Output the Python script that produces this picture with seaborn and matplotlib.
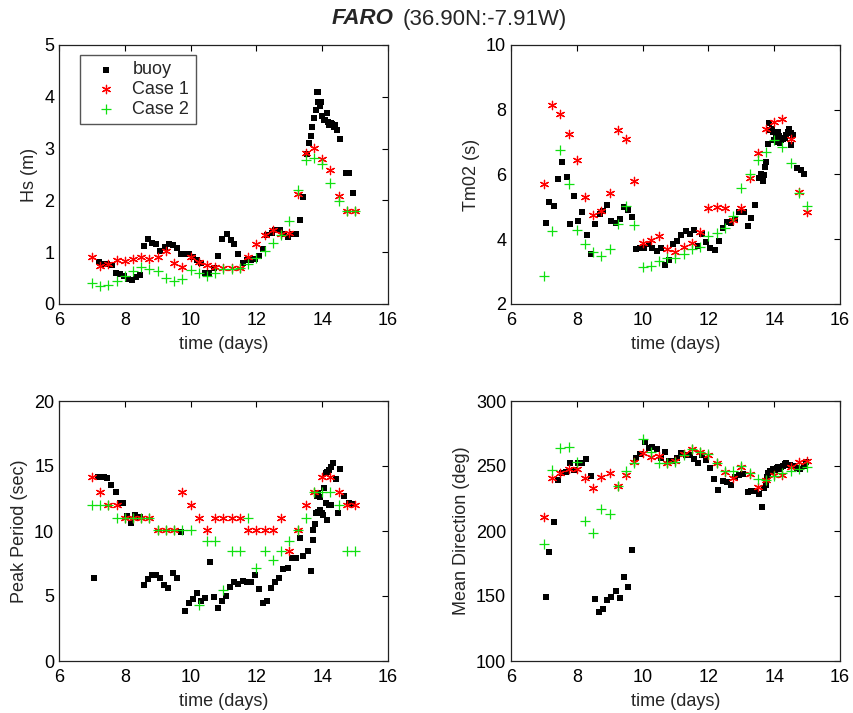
import matplotlib
matplotlib.use("Agg")
import matplotlib.pyplot as plt
import seaborn as sns
import numpy as np

# ---------------- data ----------------
t_case = [7.0, 7.25, 7.5, 7.75, 8.0, 8.25, 8.5, 8.75, 9.0, 9.25, 9.5, 9.75,
          10.0, 10.25, 10.5, 10.75, 11.0, 11.25, 11.5, 11.75, 12.0, 12.25, 12.5, 12.75,
          13.0, 13.25, 13.5, 13.75, 14.0, 14.25, 14.5, 14.75, 15.0]

# Hs (m)
hs_c1 = [0.91, 0.73, 0.77, 0.84, 0.83, 0.87, 0.90, 0.87, 0.90, 1.02, 0.80, 0.71,
         0.90, 0.82, 0.75, 0.71, 0.70, 0.69, 0.70, 0.91, 1.15, 1.33, 1.42, 1.36,
         1.38, 2.12, 2.92, 3.02, 2.80, 2.59, 2.08, 1.80, 1.80]
hs_c2 = [0.40, 0.35, 0.37, 0.45, 0.54, 0.64, 0.71, 0.67, 0.64, 0.51, 0.45, 0.48,
         0.66, 0.60, 0.54, 0.60, 0.67, 0.68, 0.70, 0.77, 0.88, 1.02, 1.18, 1.33,
         1.60, 2.20, 2.78, 2.81, 2.70, 2.33, 1.98, 1.80, 1.80]
t_hs_buoy = [7.21, 7.33, 7.45, 7.6, 7.73, 7.85, 7.97, 8.1, 8.22, 8.34, 8.46, 8.58,
             8.72, 8.84, 8.96, 9.08, 9.21, 9.33, 9.45, 9.58, 9.7, 9.82, 9.95, 10.07,
             10.2, 10.32, 10.45, 10.57, 10.7, 10.84, 10.96, 11.1, 11.22, 11.33, 11.45,
             11.58, 11.71, 11.83, 11.96, 12.08, 12.2, 12.33, 12.46, 12.58, 12.71, 12.83,
             12.95, 13.08, 13.2, 13.32, 13.42, 13.55, 13.6, 13.65, 13.7, 13.75, 13.8,
             13.84, 13.88, 13.86, 13.92, 13.97, 14.0, 14.05, 14.1, 14.15, 14.18, 14.22,
             14.26, 14.3, 14.35, 14.4, 14.45, 14.55, 14.72, 14.82, 14.95]
hs_buoy = [0.81, 0.77, 0.78, 0.75, 0.59, 0.57, 0.55, 0.49, 0.47, 0.53, 0.56, 1.12,
           1.25, 1.17, 1.15, 1.03, 1.11, 1.15, 1.13, 1.08, 0.96, 0.96, 0.96, 0.90,
           0.85, 0.80, 0.59, 0.59, 0.69, 0.93, 1.25, 1.36, 1.24, 1.15, 0.97,
           0.80, 0.84, 0.85, 0.87, 0.93, 1.07, 1.33, 1.38, 1.43, 1.42, 1.35,
           1.30, 1.36, 1.36, 1.62, 2.07, 2.90, 3.10, 3.25, 3.42, 3.60, 3.75,
           4.10, 4.10, 3.89, 3.82, 3.90, 3.62, 3.55, 3.55, 3.68, 3.52, 3.45,
           3.50, 3.47, 3.42, 3.45, 3.35, 3.18, 2.52, 2.52, 2.14]

# Tm02 (s)
tm_c1 = [5.72, 8.14, 7.88, 7.24, 6.44, 5.31, 4.75, 4.88, 5.42, 7.37, 7.10, 5.79,
         3.89, 3.98, 4.10, 3.70, 3.62, 3.75, 3.89, 4.21, 4.98, 5.00, 4.98, 4.61,
         4.98, 5.88, 6.65, 7.39, 7.63, 7.71, 7.11, 5.47, 4.85]
tm_c2 = [2.86, 4.26, 6.75, 5.70, 4.30, 3.85, 3.62, 3.48, 3.69, 4.46, 5.02, 4.44,
         3.13, 3.17, 3.34, 3.41, 3.41, 3.53, 3.69, 3.75, 4.11, 4.18, 4.34, 4.72,
         5.59, 6.01, 6.44, 6.70, 7.08, 6.84, 6.37, 5.42, 5.03]
t_tm_buoy = [7.05, 7.17, 7.3, 7.43, 7.55, 7.69, 7.78, 7.91, 8.04, 8.17, 8.31, 8.44,
             8.56, 8.69, 8.8, 8.91, 9.05, 9.18, 9.3, 9.43, 9.55, 9.69, 9.81, 9.93,
             10.05, 10.18, 10.3, 10.43, 10.56, 10.68, 10.81, 10.93, 11.06, 11.18, 11.31,
             11.43, 11.55, 11.67, 11.82, 11.94, 12.06, 12.19, 12.31, 12.44, 12.57, 12.69,
             12.81, 12.93, 13.07, 13.19, 13.31, 13.43, 13.55, 13.6, 13.66, 13.7, 13.73,
             13.76, 13.82, 13.87, 13.92, 13.85, 13.97, 14.05, 14.12, 14.15, 13.99, 14.1,
             14.17, 14.22, 14.27, 14.32, 14.37, 14.42, 14.46, 14.5, 14.56, 14.51, 14.68,
             14.8, 14.92]
tm_buoy = [4.49, 5.14, 5.03, 5.87, 6.40, 5.91, 4.47, 5.34, 4.56, 4.85, 4.13, 3.55,
           4.47, 4.77, 4.87, 5.05, 4.56, 4.49, 4.64, 5.00, 4.89, 4.70, 3.69, 3.72,
           3.72, 3.86, 3.72, 3.65, 3.73, 3.22, 3.36, 3.84, 3.96, 4.13, 4.25,
           4.15, 4.30, 3.79, 4.16, 3.93, 3.72, 3.67, 3.94, 4.34, 4.54, 4.49,
           4.64, 4.85, 4.85, 4.42, 4.66, 5.06, 5.88, 6.00, 5.80, 5.98, 6.24,
           6.39, 6.94, 7.37, 7.42, 7.60, 7.32, 7.25, 7.32, 7.20, 7.08, 7.00,
           6.96, 7.06, 7.11, 7.14, 7.22, 7.32, 7.42, 7.27, 7.22, 6.91, 6.19,
           6.14, 6.03]

# Peak period (sec)
tp_c1 = [14.13, 13.0, 12.0, 12.0, 11.0, 11.0, 11.0, 11.0, 10.08, 10.08, 10.08, 13.0,
         12.0, 11.0, 10.08, 11.0, 11.0, 11.0, 11.0, 10.08, 10.08, 10.08, 10.08, 11.0,
         8.49, 10.08, 12.0, 13.0, 14.13, 14.13, 13.0, 12.0, 12.0]
tp_c2 = [12.0, 12.0, 12.0, 11.0, 11.0, 11.0, 11.0, 11.0, 10.08, 10.08, 10.08, 10.08,
         10.08, 4.3, 9.23, 9.23, 5.5, 8.49, 8.49, 11.0, 7.18, 8.49, 7.77, 8.49,
         9.23, 10.08, 11.0, 13.0, 13.0, 13.0, 12.0, 8.49, 8.49]
t_tp_buoy = [7.07, 7.19, 7.29, 7.36, 7.46, 7.59, 7.72, 7.84, 7.95, 8.08, 8.2, 8.32,
             8.45, 8.58, 8.71, 8.83, 8.95, 9.08, 9.2, 9.32, 9.45, 9.58, 9.7, 9.83,
             9.96, 10.08, 10.2, 10.32, 10.44, 10.58, 10.7, 10.83, 10.95, 11.08, 11.2,
             11.32, 11.45, 11.58, 11.71, 11.83, 11.95, 12.08, 12.2, 12.32, 12.44, 12.57,
             12.69, 12.82, 12.95, 13.07, 13.2, 13.32, 13.42, 13.56, 13.66, 13.71, 13.73,
             13.78, 13.8, 13.88, 13.94, 13.98, 14.02, 13.84, 13.88, 13.92, 14.06, 14.11,
             14.16, 14.22, 14.28, 14.34, 14.13, 14.2, 14.28, 14.14, 14.41, 14.49, 14.55,
             14.67, 14.82, 14.92]
tp_buoy = [6.36, 14.13, 14.18, 14.13, 14.05, 13.54, 13.03, 12.13, 12.13, 11.18, 10.64, 11.23,
           11.05, 5.85, 6.28, 6.62, 6.62, 6.36, 5.85, 5.64, 6.74, 6.41, 9.95, 3.87,
           4.49, 4.77, 5.21, 4.62, 4.82, 7.64, 4.90, 4.05, 4.64, 5.00, 5.67,
           6.05, 5.90, 6.18, 6.10, 6.10, 6.62, 5.51, 4.49, 4.59, 5.64, 6.10,
           6.36, 7.05, 7.18, 7.90, 7.90, 9.44, 8.10, 8.46, 6.92, 9.31, 10.08,
           10.54, 11.36, 11.49, 11.62, 11.41, 11.23, 12.69, 12.90, 12.64, 13.28, 14.49,
           14.56, 14.69, 14.90, 15.26, 12.13, 12.0, 12.0, 10.85, 14.0, 11.41, 14.74,
           12.69, 12.13, 12.05]

# Mean direction (deg)
dir_c1 = [210.5, 241.0, 244.9, 248.0, 248.0, 241.0, 233.3, 241.8, 244.4, 234.9, 243.0, 253.0,
          260.3, 257.2, 257.7, 252.6, 254.1, 259.2, 262.8, 261.0, 258.5, 252.6, 245.4, 240.5,
          249.0, 243.8, 234.1, 239.2, 243.0, 243.0, 249.5, 253.3, 254.1]
dir_c2 = [190.0, 246.9, 263.6, 264.9, 253.3, 207.7, 198.2, 216.9, 213.1, 234.9, 246.2, 252.0,
          270.5, 261.0, 252.6, 252.0, 253.3, 258.5, 262.8, 261.0, 259.2, 252.6, 246.2, 246.2,
          250.0, 244.4, 239.7, 239.2, 242.3, 244.4, 246.2, 248.0, 249.5]
t_dir_buoy = [7.05, 7.17, 7.3, 7.43, 7.55, 7.68, 7.78, 7.91, 8.04, 8.16, 8.29, 8.43,
              8.56, 8.68, 8.81, 8.91, 9.05, 9.18, 9.3, 9.42, 9.55, 9.69, 9.81, 9.93,
              10.06, 10.18, 10.3, 10.43, 10.56, 10.68, 10.81, 10.93, 11.06, 11.18, 11.31,
              11.43, 11.55, 11.68, 11.81, 11.94, 12.06, 12.18, 12.3, 12.44, 12.56, 12.68,
              12.8, 12.93, 13.05, 13.19, 13.31, 13.43, 13.55, 13.64, 13.7, 13.74, 13.77,
              13.82, 13.87, 13.92, 13.97, 14.02, 14.07, 14.12, 14.17, 14.22, 14.27, 14.32,
              14.35, 14.4, 14.48, 14.58, 14.68, 14.78, 14.92, 14.97]
dir_buoy = [149.5, 183.6, 207.2, 239.2, 244.4, 245.6, 252.0, 246.9, 252.6, 252.6, 255.1, 242.6,
            147.4, 137.9, 139.7, 146.9, 149.5, 154.1, 148.2, 164.9, 157.2, 185.4, 256.4, 259.2,
            268.7, 264.1, 264.4, 263.1, 255.9, 261.0, 253.6, 254.1, 255.9, 260.3, 258.5,
            258.5, 255.1, 252.6, 258.5, 254.6, 248.2, 239.7, 231.5, 238.7, 237.7, 235.4,
            241.8, 243.1, 243.8, 230.3, 231.0, 230.8, 228.5, 218.7, 232.8, 235.4, 241.3,
            244.4, 246.4, 245.6, 247.4, 246.9, 248.2, 249.0, 247.9, 249.5, 250.0, 251.5,
            252.6, 250.7, 250.7, 249.7, 248.7, 247.9, 250.2, 253.0]

ylabels = ["Hs (m)", "Tm02 (s)", "Peak Period (sec)", "Mean Direction (deg)"]
ylims = [(0, 5), (2, 10), (0, 20), (100, 300)]
yticks = [[0, 1, 2, 3, 4, 5], [2, 4, 6, 8, 10], [0, 5, 10, 15, 20],
          [100, 150, 200, 250, 300]]
xticks = [6, 8, 10, 12, 14, 16]
series_names = ["buoy", "Case 1", "Case 2"]

# ---------------- style ----------------
sns.set_style("white")
plt.rcParams["font.family"] = ["Liberation Sans", "DejaVu Sans"]

RED = "#ff0000"
GREEN = "#10e010"
ASTERISK = (6, 2, 0)

fig = plt.figure(figsize=(8.54, 7.13), dpi=100)

W, H = 854.0, 713.0
boxes = [(59, 45, 388, 304), (511, 45, 840, 304),
         (59, 401, 388, 661), (511, 401, 840, 661)]

panels = [
    (t_hs_buoy, hs_buoy, hs_c1, hs_c2),
    (t_tm_buoy, tm_buoy, tm_c1, tm_c2),
    (t_tp_buoy, tp_buoy, tp_c1, tp_c2),
    (t_dir_buoy, dir_buoy, dir_c1, dir_c2),
]

for i, ((x0, y0, x1, y1), (tb, vb, v1, v2)) in enumerate(zip(boxes, panels)):
    ax = fig.add_axes([x0 / W, 1 - y1 / H, (x1 - x0) / W, (y1 - y0) / H])
    sns.scatterplot(x=tb, y=vb, ax=ax, marker="s", s=14, color="black",
                    edgecolor="black", linewidth=0, label=series_names[0], zorder=3)
    sns.scatterplot(x=t_case, y=v1, ax=ax, marker=ASTERISK, s=36, color=RED,
                    linewidth=0.9, label=series_names[1], zorder=3)
    sns.scatterplot(x=t_case, y=v2, ax=ax, marker="+", s=56, color=GREEN,
                    linewidth=0.9, label=series_names[2], zorder=3)
    ax.set_xlim(6, 16)
    ax.set_ylim(*ylims[i])
    ax.set_xticks(xticks)
    ax.set_yticks(yticks[i])
    ax.set_xlabel("time (days)", fontsize=13, labelpad=5)
    ax.set_ylabel(ylabels[i], fontsize=13, labelpad=4)
    ax.tick_params(axis="x", pad=6)
    ax.tick_params(direction="in", top=True, right=True, length=4, width=0.8,
                   labelsize=13, colors="black")
    for sp in ax.spines.values():
        sp.set_color("#222222")
        sp.set_linewidth(0.9)
    if i == 0:
        leg = ax.legend(loc="upper left", bbox_to_anchor=(21 / 329, 1 - 10 / 259),
                        borderaxespad=0, fontsize=13, frameon=True, fancybox=False,
                        edgecolor="#555555", framealpha=1, handlelength=2.2,
                        handletextpad=0.35, labelspacing=0.15, borderpad=0.35)
        leg.get_frame().set_linewidth(1.0)
    else:
        lg = ax.get_legend()
        if lg is not None:
            lg.remove()

fig.text(393 / W, 1 - 19 / H, "FARO", ha="right", va="center", fontsize=16,
         fontweight="bold", fontstyle="italic")
fig.text(403 / W, 1 - 19 / H, "(36.90N:-7.91W)", ha="left", va="center", fontsize=16)

fig.savefig("out.png", dpi=100)
